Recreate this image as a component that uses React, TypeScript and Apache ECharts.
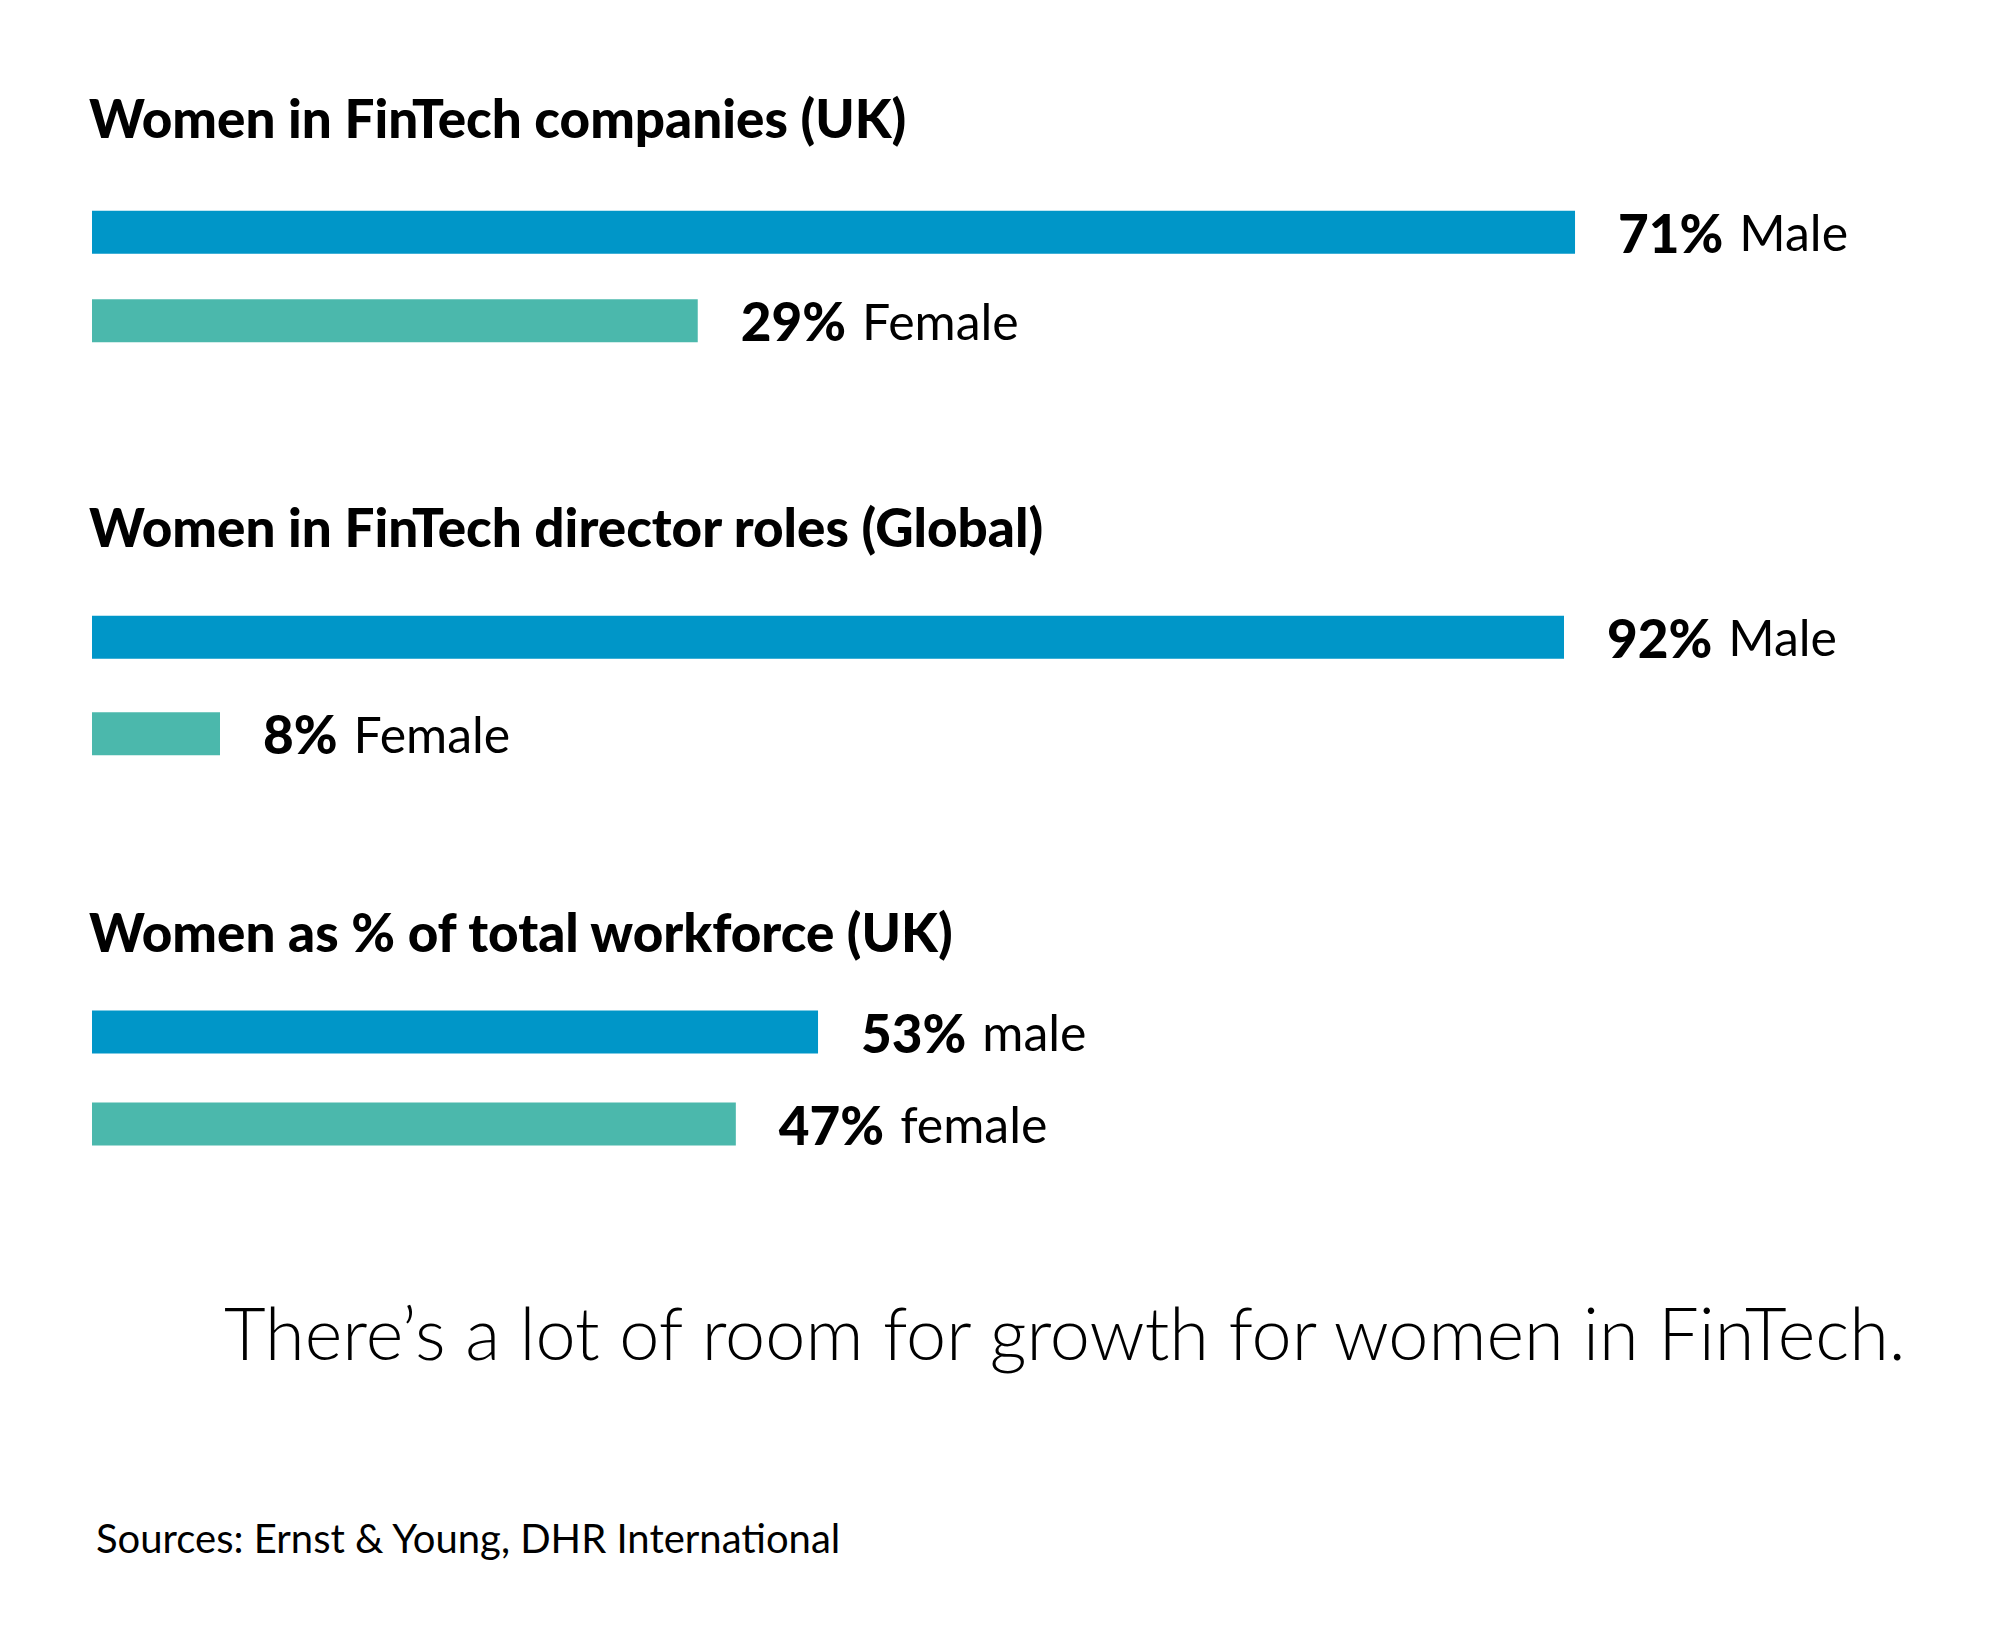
import React, { useEffect, useRef } from "react";
import * as echarts from "echarts";

const categories = ["Male", "Female"];
const groupTitles = [
  "Women in FinTech companies (UK)",
  "Women in FinTech director roles (Global)",
  "Women as % of total workforce (UK)",
];
const maleValues = [71, 92, 53];
const femaleValues = [29, 8, 47];
const labelWords = [
  ["Male", "Female"],
  ["Male", "Female"],
  ["male", "female"],
];
const headline = "There\u2019s a lot of room for growth for women in FinTech.";
const sourceNote = "Sources: Ernst & Young, DHR International";

const MALE_COLOR = "#0096c8";
const FEMALE_COLOR = "#4bb8ac";
const FONT = "Lato, 'Open Sans', sans-serif";

// layout (pixels)
const gridLeft = 92;
const gridWidth = 1600;
const gridTops = [188, 589, 986];
const gridHeights = [177, 193, 184];
const axisMax = [76.6, 100, 116.8];
const titleY = [117.5, 526.5, 931.5];

export default function App() {
  const ref = useRef<HTMLDivElement>(null);

  useEffect(() => {
    document.body.style.margin = "0";
    if (!ref.current) return;
    const chart = echarts.init(ref.current, null, { renderer: "svg" });

    const grids = gridTops.map((t, i) => ({
      left: gridLeft,
      width: gridWidth,
      top: t,
      height: gridHeights[i],
      containLabel: false,
    }));
    const xAxes = gridTops.map((_, i) => ({
      type: "value",
      gridIndex: i,
      min: 0,
      max: axisMax[i],
      show: false,
    }));
    const yAxes = gridTops.map((_, i) => ({
      type: "category",
      gridIndex: i,
      data: categories,
      inverse: true,
      show: false,
    }));
    const series = gridTops.map((_, g) => ({
      type: "bar",
      xAxisIndex: g,
      yAxisIndex: g,
      barWidth: 43,
      data: [
        { value: maleValues[g], itemStyle: { color: MALE_COLOR } },
        { value: femaleValues[g], itemStyle: { color: FEMALE_COLOR } },
      ],
      label: {
        show: true,
        position: "right",
        distance: 43,
        formatter: (p: any) => `{b|${p.value}%}{r|${labelWords[g][p.dataIndex]}}`,
        rich: {
          b: { fontFamily: FONT, fontWeight: 900, fontSize: 53, color: "#000", padding: [0, 16, 0, 0] },
          r: { fontFamily: FONT, fontWeight: 400, fontSize: 50, color: "#000" },
        },
      },
    }));

    const graphics: any[] = groupTitles.map((t, i) => ({
      type: "text",
      x: 89,
      y: titleY[i],
      style: {
        text: t,
        fontFamily: FONT,
        fontWeight: 900,
        fontSize: 53,
        fill: "#000",
        verticalAlign: "middle",
        align: "left",
      },
    }));
    graphics.push({
      type: "text",
      x: 224,
      y: 1332,
      style: {
        text: headline,
        fontFamily: FONT,
        fontWeight: 300,
        fontSize: 72,
        fill: "#000",
        verticalAlign: "middle",
        align: "left",
      },
    });
    graphics.push({
      type: "text",
      x: 96,
      y: 1538,
      style: {
        text: sourceNote,
        fontFamily: FONT,
        fontWeight: 400,
        fontSize: 40,
        fill: "#000",
        verticalAlign: "middle",
        align: "left",
      },
    });

    chart.setOption({
      animation: false,
      backgroundColor: "#ffffff",
      grid: grids,
      xAxis: xAxes,
      yAxis: yAxes,
      series,
      graphic: graphics,
    });

    return () => chart.dispose();
  }, []);

  return <div ref={ref} style={{ width: 2000, height: 1625 }} />;
}
